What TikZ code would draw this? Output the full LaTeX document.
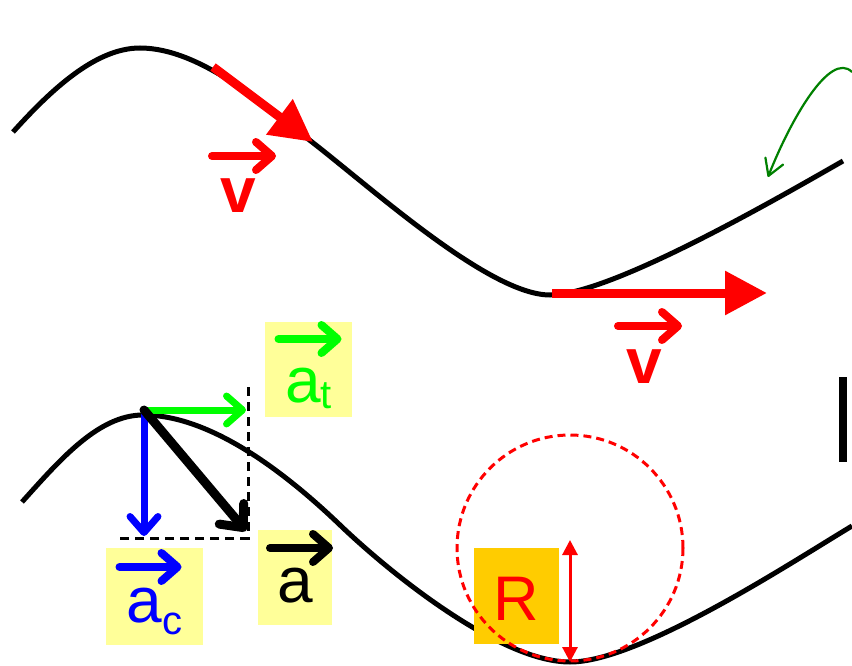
\documentclass[tikz,border=0pt]{standalone}
\usepackage{fontspec}
\setmainfont{Liberation Sans}
\usetikzlibrary{arrows.meta}
\usepackage{xcolor}
\definecolor{velred}{HTML}{FF0000}
\definecolor{tangreen}{HTML}{00FF00}
\definecolor{radblue}{HTML}{0000FF}
\definecolor{notegreen}{HTML}{008000}
\definecolor{boxyellow}{HTML}{FFFF99}
\definecolor{boxorange}{HTML}{FFCC00}
\newcommand{\letterfont}{\fontsize{64pt}{64pt}\selectfont}
\newcommand{\subfont}{\fontsize{40pt}{40pt}\selectfont}
\newcommand{\rfont}{\fontsize{63pt}{63pt}\selectfont}
\tikzset{
  track/.style={line width=5pt},
  velarrow/.style={velred, line width=9pt, -{Triangle[length=42pt,width=42pt]}},
  vecbar/.style={line width=8pt, line cap=round, -{Straight Barb[length=16pt,width=28pt,round]}},
  accarrow/.style={line width=7pt, line cap=round, -{Straight Barb[length=16pt,width=28pt,round]}},
  vlabel/.style={font=\letterfont\bfseries, text=velred, anchor=base, inner sep=0pt},
  lblbox/.style={fill=boxyellow, inner sep=0pt, font=\letterfont, text depth=0pt},
  guide/.style={black, line width=3pt, dash pattern=on 9pt off 6pt},
}

\begin{document}
\begin{tikzpicture}[x=1pt, y=-1pt]
  \useasboundingbox (0,0) rectangle (852,666);

  % Upper track with the velocity vectors
  \draw[track] (13,132) .. controls (50,91) and (95,48) .. (140,48)
    .. controls (200,48) and (264.6,105.4) .. (312,142)
    .. controls (375,191) and (490,295) .. (550,295)
    .. controls (610,295) and (773,201) .. (843,161);
  \coordinate (v1s) at (213,67);
  \coordinate (v1e) at (313,142);
  \draw[velarrow] (v1s) -- (v1e);
  \node[vlabel] (v1) at (238,213) {v};
  \draw[vecbar, velred] ([shift={(-26,-57)}]v1.base) -- ++(64,0);

  \coordinate (v2s) at (552,293);
  \coordinate (v2e) at (767,293);
  \draw[velarrow] (v2s) -- (v2e);
  \node[vlabel] (v2) at (644,383) {v};
  \draw[vecbar, velred] ([shift={(-26,-57)}]v2.base) -- ++(64,0);

  % Curved pointer, top right
  \coordinate (ns) at (852,72);
  \coordinate (ne) at (768,177);
  \draw[notegreen, line width=2.2pt, -{Straight Barb[length=16pt,width=19pt,round]}] (ns) .. controls (830,50) and (790,121) .. (ne);

  \fill (839,377) rectangle (847,462);

  % Lower track
  \draw[track] (22,502) .. controls (59,461) and (98,415) .. (143,415)
    .. controls (213,415) and (289.6,476.7) .. (340,525)
    .. controls (390,573) and (500,662) .. (570,662)
    .. controls (640,662) and (792,562) .. (852,526);

  % Acceleration and its components
  \coordinate (gtop) at (248,387);
  \coordinate (gcorner) at (248,538);
  \coordinate (gleft) at (117,538);
  \draw[guide] (gtop) -- (gcorner) -- (gleft);
  \coordinate (top) at (144,410);
  \coordinate (atend) at (246,410);
  \coordinate (acend) at (144,536);
  \coordinate (aend) at (246,531);
  \draw[accarrow, tangreen] (top) -- (atend);
  \draw[accarrow, radblue] (top) -- (acend);
  \draw[accarrow, black, line width=9pt, -{Straight Barb[length=18pt,width=32pt,round]}] (top) -- (aend);

  \node[lblbox, minimum width=87pt, minimum height=95pt, text height=65pt, text=tangreen] (atbox) at (308.5,369.5) {a\raisebox{-6pt}{\subfont t}};
  \draw[vecbar, tangreen] ([shift={(-30,-30.5)}]atbox.center) -- ++(63,0);

  \node[lblbox, minimum width=97pt, minimum height=97pt, text height=51pt, text=radblue] (acbox) at (154.5,596.5) {a\raisebox{-12pt}{\subfont c}};
  \draw[vecbar, radblue] ([shift={(-35,-29.5)}]acbox.center) -- ++(62,0);

  \node[lblbox, minimum width=74pt, minimum height=95pt, text height=49pt, text=black] (abox) at (295,577.5) {a};
  \draw[vecbar, black] ([shift={(-25,-29.5)}]abox.center) -- ++(63,0);

  % Radius of curvature
  \node[fill=boxorange, inner sep=0pt, minimum width=85pt, minimum height=96pt, text height=48pt, text depth=0pt, font=\rfont, text=velred] (rbox) at (516.5,596) {R};
  \coordinate (ctr) at (570,548);
  \draw[velred, line width=3pt, dash pattern=on 8pt off 5pt] (ctr) circle[radius=113];
  \coordinate (rtop) at (570,540);
  \coordinate (rbot) at (570,662);
  \draw[velred, line width=3pt, {Triangle[length=15pt,width=15pt]}-{Triangle[length=15pt,width=15pt]}] (rtop) -- (rbot);
\end{tikzpicture}
\end{document}
